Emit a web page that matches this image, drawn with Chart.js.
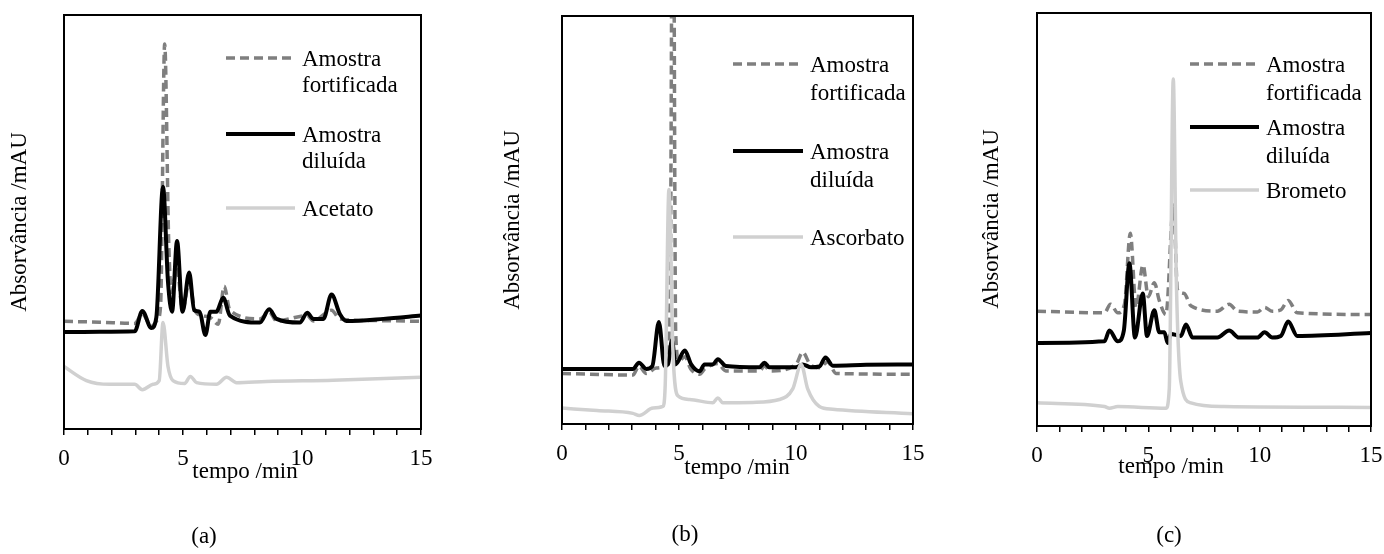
<!DOCTYPE html>
<html>
<head>
<meta charset="utf-8">
<script src="https://cdn.jsdelivr.net/npm/chart.js@4.4.1/dist/chart.umd.min.js"></script>
<style>
  html, body { margin: 0; padding: 0; background: #fff; }
  #wrap { position: relative; width: 1384px; height: 554px; }
  canvas { position: absolute; top: 0; }
</style>
</head>
<body>
<div id="wrap">
  <canvas id="chartA" width="460" height="554" style="left:0px"></canvas>
  <canvas id="chartB" width="480" height="554" style="left:460px"></canvas>
  <canvas id="chartC" width="464" height="554" style="left:920px"></canvas>
</div>
<script>
// ---- data (tempo /min, absorvância in relative units 0-100) ----
const xTicks = [0, 5, 10, 15];
const xTitle = 'tempo /min';
const yTitle = 'Absorvância /mAU';
const captions = ['(a)', '(b)', '(c)'];

const legendA = [['Amostra', 'fortificada'], ['Amostra', 'diluída'], ['Acetato']];
const legendB = [['Amostra', 'fortificada'], ['Amostra', 'diluída'], ['Ascorbato']];
const legendC = [['Amostra', 'fortificada'], ['Amostra', 'diluída'], ['Brometo']];

// panel (a)
const fortA = [[0,26],[1.5,25.8],[2.97,25.5],[3.29,27.8],[3.67,24.9],[3.95,26.6],[4.06,30],[4.23,93],[4.4,45],[4.52,33],
  [4.75,38.9],[4.98,28.7],[5.26,35.5],[5.5,28.7],[5.78,27.4],[6.13,27],[6.48,25.3],[6.73,34.5],[6.97,28.7],[8.23,26.6],
  [8.62,28.3],[8.93,26.1],[10.22,27.4],[10.47,26.1],[11.24,28.7],[11.59,26.6],[13,26.2],[15,26]];
const dilA = [[0,23.4],[1.5,23.5],[2.97,23.6],[3.29,28.5],[3.67,24.4],[3.88,27],[4.16,58.5],[4.37,35.5],[4.54,28.3],
  [4.75,45.4],[4.98,28.3],[5.26,37.8],[5.47,28.7],[5.7,28.3],[5.94,22.7],[6.15,28.3],[6.4,28.3],[6.69,31.7],[6.97,27.4],
  [8.23,25.7],[8.62,28.9],[8.93,26.6],[9.91,25.7],[10.22,28.1],[10.47,26.6],[10.9,26.6],[11.24,32.5],[11.59,27.8],
  [11.87,26.1],[13.42,26.6],[15,27.4]];
const acetA = [[0,15.1],[0.94,11.7],[1.92,10.8],[2.97,10.8],[3.29,9.5],[3.74,10.8],[4.0,11.7],[4.16,25.7],[4.37,15.1],
  [4.58,11.7],[5.07,11],[5.31,12.7],[5.57,11.2],[6.41,10.8],[6.83,12.5],[7.25,11.2],[8.51,11.5],[11.31,11.8],[15,12.5]];

// panel (b)
const fortB = [[0,12.4],[3.03,12],[3.29,14.2],[3.6,12.4],[4.03,13.7],[4.4,14],[4.62,30],[4.74,160],[4.86,22],[5.0,15.5],
  [5.25,16.5],[5.5,13.5],[5.88,12.2],[6.1,13.5],[6.66,14.8],[7.0,13],[8.44,13],[8.65,14.2],[8.9,13],[10.0,14.6],
  [10.29,17.6],[10.6,14.6],[11.0,13.8],[11.36,15.2],[11.71,12.4],[15,12.2]];
const dilB = [[0,13.5],[3.03,13.5],[3.29,15],[3.6,13.5],[3.86,14.2],[4.14,25],[4.38,14.2],[4.53,14.6],[4.7,20.6],
  [4.85,14.6],[5.25,18],[5.52,14.6],[5.88,12.9],[6.09,14.6],[6.45,14.6],[6.66,15.9],[7.0,14.2],[8.44,13.9],[8.65,15],
  [8.86,13.9],[10.0,13.9],[10.29,14.6],[10.64,13.9],[11.0,14.1],[11.26,16.3],[11.57,14.3],[13,14.5],[15,14.6]];
const ascB = [[0,3.9],[1.5,3.3],[3.03,2.6],[3.3,2.1],[3.89,3.9],[4.31,4.3],[4.41,9.4],[4.57,57.5],[4.74,18],[4.95,6.9],
  [5.45,6],[6.45,5.2],[6.66,6.4],[6.87,5.2],[8.15,5.3],[9.29,6],[9.86,8.6],[10.22,14.6],[10.5,8.6],[11.0,4.3],
  [11.57,3.6],[15,2.5]];

// panel (c)
const fortC = [[0,27.8],[3.03,27.4],[3.3,29.5],[3.63,27.4],[3.93,29.5],[4.19,46.7],[4.45,28.7],[4.76,39],[5.0,31.3],
  [5.27,34.7],[5.49,30.4],[5.79,27],[6.13,53.5],[6.31,33],[6.61,32.1],[6.91,29.1],[8.1,27.8],[8.63,29.5],[9.0,27.8],
  [9.9,27.6],[10.22,28.7],[10.57,27.8],[10.95,28.1],[11.28,30.4],[11.69,27.4],[15,27]];
const dilC = [[0,20.1],[3.03,20.5],[3.25,23.1],[3.63,20.5],[3.9,23.1],[4.15,39.4],[4.4,21.4],[4.75,32.1],[4.94,21.8],
  [5.27,28],[5.49,22.7],[5.72,22.7],[5.87,20.1],[6.01,22.3],[6.46,21.8],[6.69,24.6],[6.99,21.4],[8.1,21.4],[8.63,23.1],
  [9.07,21.4],[9.9,21.4],[10.22,22.7],[10.57,21.4],[10.95,21.8],[11.28,25.3],[11.69,21.8],[15,22.5]];
const bromC = [[0,5.6],[3.03,4.7],[3.25,4.3],[3.63,4.7],[5.79,4.3],[5.94,9],[6.12,84],[6.26,34.7],[6.46,10.7],
  [6.91,5.6],[8.4,4.7],[15,4.5]];

const FONT = '23px "Liberation Serif", "Times New Roman", serif';

// frame, axis titles, caption and legend drawn on top of the plot
const decor = {
  id: 'decor',
  afterDraw(chart, args, o) {
    const ctx = chart.ctx
    const a = chart.chartArea
    ctx.save()
    ctx.strokeStyle = '#000'
    ctx.lineWidth = 2
    ctx.setLineDash([])
    ctx.strokeRect(a.left, a.top, a.right - a.left, a.bottom - a.top)

    ctx.fillStyle = '#000'
    ctx.font = FONT
    ctx.textAlign = 'center'
    ctx.textBaseline = 'middle'
    ctx.fillText(xTitle, o.xTitle[0], o.xTitle[1])
    ctx.fillText(o.caption, o.caption_at[0], o.caption_at[1])

    ctx.save()
    ctx.translate(o.yTitle[0], o.yTitle[1])
    ctx.rotate(-Math.PI / 2)
    ctx.fillText(yTitle, 0, 0)
    ctx.restore()

    // legend
    const lg = o.legend
    ctx.textAlign = 'left'
    chart.data.datasets.forEach((ds, i) => {
      const y = lg.rows[i]
      ctx.strokeStyle = ds.borderColor
      ctx.lineWidth = ds.borderWidth
      ctx.setLineDash(ds.borderDash || [])
      ctx.beginPath()
      ctx.moveTo(lg.x0, y)
      ctx.lineTo(lg.x1, y)
      ctx.stroke()
      lg.names[i].forEach((t, j) => {
        ctx.fillText(t, lg.x1 + 7, y + 2 + j * lg.lineH)
      })
    })
    ctx.restore()
  }
}

const toXY = pts => pts.map(([x, y]) => ({ x, y }))

function makeChart(id, series, names, pad, decorOpts) {
  const styles = [
    { borderColor: '#7f7f7f', borderWidth: 3.5, borderDash: [9, 5], order: 2 },
    { borderColor: '#000000', borderWidth: 4, order: 1 },
    { borderColor: '#d0d0d0', borderWidth: 3.5, order: 0 }
  ]
  return new Chart(document.getElementById(id), {
    type: 'line',
    data: {
      datasets: series.map((s, i) => ({
        label: names[i].join(' '),
        data: toXY(s),
        fill: false,
        pointRadius: 0,
        cubicInterpolationMode: 'monotone',
        ...styles[i]
      }))
    },
    options: {
      responsive: false,
      animation: false,
      events: [],
      layout: { padding: pad },
      plugins: {
        legend: { display: false },
        tooltip: { enabled: false },
        decor: { ...decorOpts, legend: { ...decorOpts.legend, names } }
      },
      scales: {
        x: {
          type: 'linear',
          min: 0,
          max: 15,
          afterFit: scale => {
            scale.height = 44
            // let the end labels hang over the panel edge instead of shrinking the plot
            scale.paddingLeft = 0
            scale.paddingRight = 0
          },
          border: { display: true, color: '#000', width: 2 },
          grid: { drawOnChartArea: false, drawTicks: true, tickLength: 6, color: '#000', lineWidth: 1.5 },
          ticks: {
            stepSize: 1,
            autoSkip: false,
            maxRotation: 0,
            padding: 10,
            color: '#000',
            font: { family: '"Liberation Serif", "Times New Roman", serif', size: 23 },
            callback: v => xTicks.includes(v) ? String(v) : ''
          }
        },
        y: { display: false, min: 0, max: 100 }
      }
    },
    plugins: [decor]
  })
}

makeChart('chartA', [fortA, dilA, acetA], legendA,
  { left: 64, right: 39, top: 15, bottom: 81 },
  { xTitle: [245, 472], yTitle: [20, 222], caption: captions[0], caption_at: [204, 537],
    legend: { x0: 226, x1: 295, rows: [58, 134, 208], lineH: 26 } })

makeChart('chartB', [fortB, dilB, ascB], legendB,
  { left: 102, right: 27, top: 16, bottom: 86 },
  { xTitle: [277, 468], yTitle: [53, 220], caption: captions[1], caption_at: [225, 535],
    legend: { x0: 273, x1: 343, rows: [64, 151, 237], lineH: 28 } })

makeChart('chartC', [fortC, dilC, bromC], legendC,
  { left: 117, right: 13, top: 13, bottom: 84 },
  { xTitle: [251, 467], yTitle: [72, 219], caption: captions[2], caption_at: [249, 536],
    legend: { x0: 270, x1: 339, rows: [64, 127, 190], lineH: 28 } })
</script>
</body>
</html>
